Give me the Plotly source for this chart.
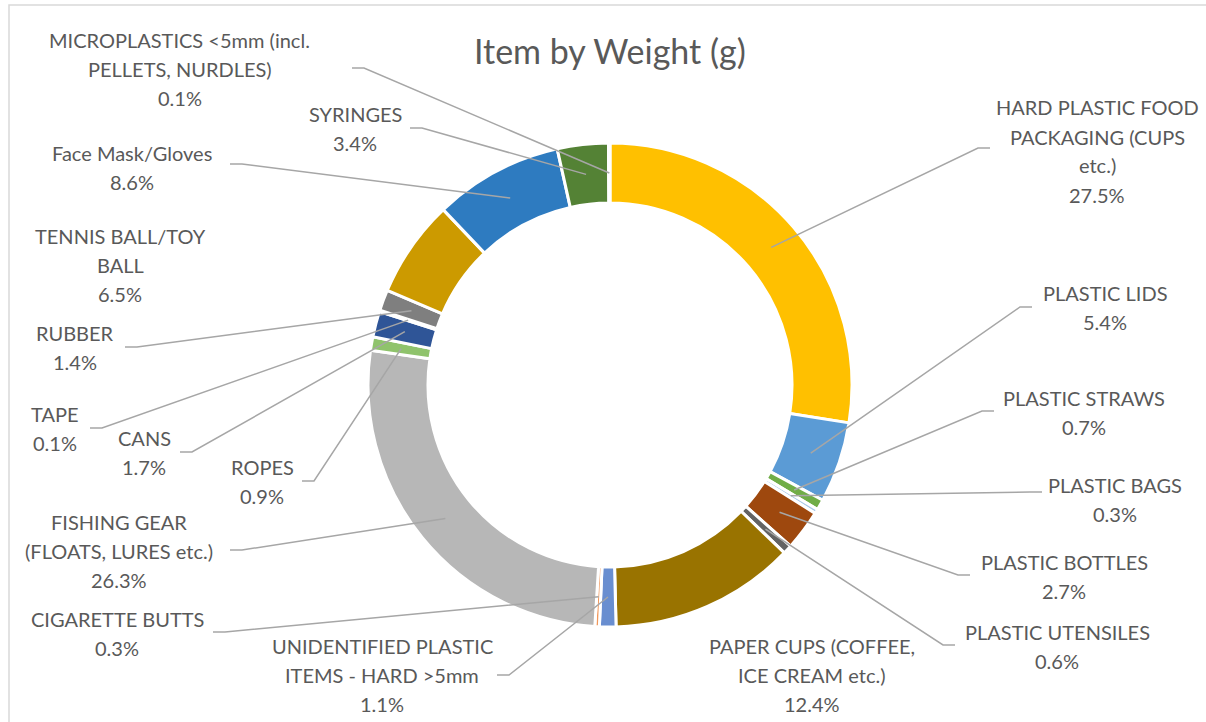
import math
import plotly.graph_objects as go

# ---------------- data ----------------
categories = [
    "HARD PLASTIC FOOD\nPACKAGING (CUPS\netc.)",
    "PLASTIC LIDS",
    "PLASTIC STRAWS",
    "PLASTIC BAGS",
    "PLASTIC BOTTLES",
    "PLASTIC UTENSILES",
    "PAPER CUPS (COFFEE,\nICE CREAM etc.)",
    "UNIDENTIFIED PLASTIC\nITEMS - HARD &gt;5mm",
    "CIGARETTE BUTTS",
    "FISHING GEAR\n(FLOATS, LURES etc.)",
    "ROPES",
    "CANS",
    "TAPE",
    "RUBBER",
    "TENNIS BALL/TOY\nBALL",
    "Face Mask/Gloves",
    "SYRINGES",
    "MICROPLASTICS &lt;5mm (incl.\nPELLETS, NURDLES)",
]
values = [27.5, 5.4, 0.7, 0.3, 2.7, 0.6, 12.4, 1.1, 0.3, 26.3, 0.9, 1.7, 0.1, 1.4, 6.5, 8.6, 3.4, 0.1]

# ---------------- styles / layout ----------------
colors = ["#FFC000", "#5B9BD5", "#70AD47", "#A9C9E8", "#9E480E", "#636363",
          "#997300", "#698ED0", "#F1975A", "#B7B7B7", "#8FC36C", "#2F5597",
          "#C9C9C9", "#7F7F7F", "#CC9A00", "#2E7BC0", "#548235", "#E2E2E2"]

W, H = 1206, 722
CX, CY, R_OUT, R_IN = 610, 385, 242, 182
FONT = "Lato"
TXT = "#595959"
LINE_H = 29

# label text centres (px)
label_pos = [(1097, 151), (1105, 307), (1084, 412), (1115, 499), (1064, 576), (1057, 646),
             (812, 675), (382, 675), (117, 633), (119, 551), (262, 481), (144, 452),
             (55, 428), (75, 347), (120, 265), (132, 167), (355, 129), (180, 69)]
# leader line start (px); None = no leader
leader_start = [(990, 148), (1032, 307), (994, 411), (1042, 492), (970, 575), (955, 645),
                None, (497, 675), (213, 632), (230, 550), (302, 481), (180, 452),
                (90, 428), (125, 347), None, (230, 164), (410, 128), (352, 68)]


def px(x):
    return x / W


def py(y):
    return 1 - y / H


fig = go.Figure()
fig.add_trace(go.Pie(
    labels=[c.replace("\n", " ").replace("&gt;", ">").replace("&lt;", "<") for c in categories],
    values=values,
    sort=False,
    direction="clockwise",
    rotation=0,
    hole=R_IN / R_OUT,
    marker=dict(colors=colors, line=dict(color="white", width=3)),
    textinfo="none",
    hoverinfo="label+percent",
    showlegend=False,
    domain=dict(x=[px(CX - R_OUT), px(CX + R_OUT)], y=[py(CY + R_OUT), py(CY - R_OUT)]),
))

total = sum(values)
annotations = []
shapes = []
cum = 0.0
for cat, v, (lx, ly), ls in zip(categories, values, label_pos, leader_start):
    mid = (cum + v / 2) / total * 2 * math.pi
    cum += v
    pct = f"{v / total * 100:.1f}%"
    lines = cat.split("\n") + [pct]
    n = len(lines)
    for i, t in enumerate(lines):
        yy = ly + (i - (n - 1) / 2) * LINE_H
        annotations.append(dict(
            x=px(lx), y=py(yy), xref="paper", yref="paper", text=t,
            showarrow=False, xanchor="center", yanchor="middle", align="center",
            font=dict(family=FONT, size=20, color=TXT),
        ))
    if ls is not None:
        rm = (R_OUT + R_IN) / 2
        ex = CX + rm * math.sin(mid)
        ey = CY - rm * math.cos(mid)
        sx, sy = ls
        kx = sx + (12 if ex > sx else -12)
        path = f"M {px(sx)} {py(sy)} L {px(kx)} {py(sy)} L {px(ex)} {py(ey)}"
        shapes.append(dict(type="path", xref="paper", yref="paper", path=path,
                           line=dict(color="#A6A6A6", width=1.5)))

# chart border (cropped at right / bottom)
shapes.append(dict(type="rect", xref="paper", yref="paper",
                   x0=px(9), y0=py(740), x1=px(1230), y1=py(5),
                   line=dict(color="#D9D9D9", width=1.5), layer="below"))

annotations.append(dict(
    x=px(610), y=py(50), xref="paper", yref="paper", text="Item by Weight (g)",
    showarrow=False, xanchor="center", yanchor="middle",
    font=dict(family=FONT, size=34, color=TXT),
))

fig.update_layout(
    width=W, height=H,
    margin=dict(l=0, r=0, t=0, b=0),
    paper_bgcolor="white", plot_bgcolor="white",
    annotations=annotations, shapes=shapes,
    showlegend=False,
)

fig.write_html("out.html", config={"displayModeBar": False},
               post_script="document.body.style.margin='0';document.body.style.overflow='hidden';")
